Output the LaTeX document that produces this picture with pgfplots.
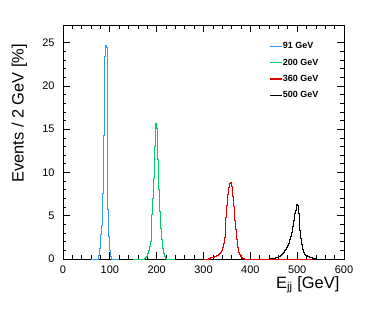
\documentclass[border=0pt]{standalone}
\usepackage{fontspec}
\setmainfont{Liberation Sans}
\usepackage{pgfplots}
\pgfplotsset{compat=1.18}
\definecolor{c91}{RGB}{51,153,255}
\definecolor{c200}{RGB}{0,204,102}
\definecolor{c360}{RGB}{220,0,0}
\begin{document}
\begin{tikzpicture}
\useasboundingbox (0,0) rectangle (374bp,316bp);
\begin{axis}[
 at={(63bp,57bp)}, anchor=south west,
 scale only axis, width=281bp, height=233.6bp,
 xmin=0, xmax=600, ymin=0, ymax=27,
 xtick={0,100,...,600}, ytick={0,5,...,25},
 minor x tick num=4, minor y tick num=4,
 tick align=inside,
 major tick length=7bp, minor tick length=3.5bp,
 axis line style={line width=0.8bp},
 every tick/.style={black, line width=0.7bp},
 ticklabel style={font=\fontsize{11}{13}\selectfont},
 /pgf/number format/assume math mode=true,
 xticklabel style={yshift=-3bp},
 yticklabel style={xshift=-5bp},
 xlabel={E\textsubscript{jj} [GeV]},
 ylabel={Events / 2 GeV [\%]},
 label style={font=\fontsize{16.5}{19}\selectfont},
 xlabel style={at={(axis description cs:0.996,-0.125)}, anchor=base east},
 ylabel style={at={(axis description cs:-0.155,0.936)}, anchor=east},
 clip=false,
 legend style={at={(axis description cs:0.733,0.93)}, anchor=north west,
   draw=none, fill=none, inner sep=0pt, row sep=7.6bp,
   font=\bfseries\fontsize{9}{10}\selectfont,
   nodes={inner sep=0.5bp, anchor=west}},
 legend cell align=left,
 legend image code/.code={\draw[#1, line width=1.3bp] (0bp,0bp) -- (12bp,0bp);},
 every axis plot/.append style={const plot mark left, line width=1bp, mark=none},
]
\addplot[c91] coordinates {(60,0) (76,0.4) (78,1.2) (80,2.8) (82,3.9) (84,7.6) (86,14.3) (88,23.4) (90,24.7) (92,24.5) (94,14.1) (96,5.7) (98,2.6) (100,1.0) (102,0.3) (104,0) (120,0)};
\addlegendentry{91 GeV}
\addplot[c200] coordinates {(150,0) (174,0.1) (176,0.2) (178,0.3) (180,0.65) (182,1.0) (184,1.4) (186,2.0) (188,3.2) (190,5.1) (192,7.0) (194,9.3) (196,13.0) (198,15.7) (200,15.1) (202,11.5) (204,8.0) (206,5.5) (208,3.5) (210,2.2) (212,1.2) (214,0.6) (216,0.3) (218,0.1) (220,0) (240,0)};
\addlegendentry{200 GeV}
\addplot[c360] coordinates {(300,0) (310,0.1) (312,0.1) (314,0.12) (316,0.15) (318,0.18) (320,0.2) (322,0.22) (324,0.25) (326,0.3) (328,0.35) (330,0.4) (332,0.5) (334,0.6) (336,0.7) (338,0.95) (340,1.3) (342,1.8) (344,2.5) (346,3.5) (348,4.8) (350,6.2) (352,7.4) (354,8.3) (356,8.7) (358,8.85) (360,8.4) (362,7.2) (364,6.1) (366,4.5) (368,3.4) (370,2.2) (372,1.3) (374,0.75) (376,0.5) (378,0.35) (380,0.25) (382,0.18) (384,0.1) (386,0.05) (388,0) (400,0)};
\addlegendentry{360 GeV}
\addplot[black] coordinates {(430,0) (444,0.03) (446,0.04) (448,0.06) (450,0.08) (452,0.1) (454,0.13) (456,0.16) (458,0.2) (460,0.25) (462,0.3) (464,0.38) (466,0.48) (468,0.58) (470,0.7) (472,0.85) (474,1.0) (476,1.15) (478,1.35) (480,1.6) (482,1.8) (484,2.2) (486,2.6) (488,3.1) (490,3.8) (492,4.5) (494,5.3) (496,5.6) (498,6.3) (500,6.2) (502,5.3) (504,4.3) (506,3.3) (508,2.4) (510,1.7) (512,1.1) (514,0.75) (516,0.55) (518,0.45) (520,0.37) (522,0.3) (524,0.25) (526,0.2) (528,0.15) (530,0.12) (532,0.09) (534,0.07) (536,0.05) (538,0.03) (540,0.02) (542,0) (600,0)};
\addlegendentry{500 GeV}
\addplot[c360, forget plot] coordinates {(388,0) (534,0)};
\end{axis}
\end{tikzpicture}
\end{document}
